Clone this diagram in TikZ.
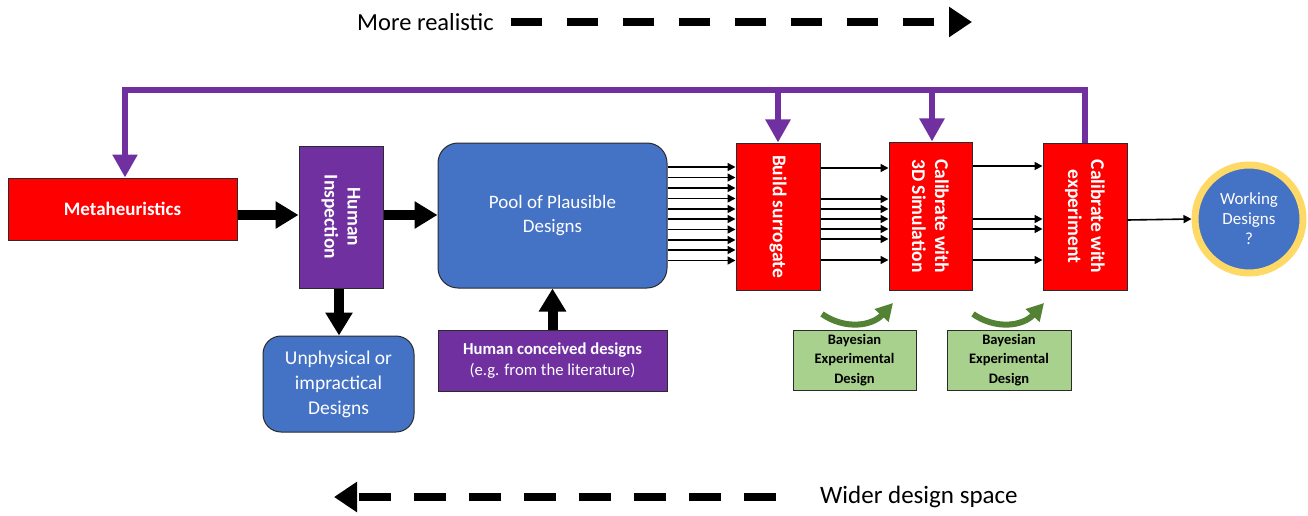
\documentclass[tikz,border=0pt]{standalone}
\usepackage{fontspec}
\setmainfont{Carlito}
\usetikzlibrary{arrows.meta}
\definecolor{myred}{HTML}{FF0000}
\definecolor{mypurple}{HTML}{7030A0}
\definecolor{myblue}{HTML}{4472C4}
\definecolor{mygreen}{HTML}{A9D18E}
\definecolor{mygold}{HTML}{FFD966}
\definecolor{darkgreen}{HTML}{548235}
\definecolor{edgec}{HTML}{2B2B2B}
\begin{document}
\begin{tikzpicture}[x=1pt,y=-1pt,
  basebox/.style={draw=edgec, line width=1pt, inner sep=0pt},
  redbox/.style={basebox, fill=myred},
  purplebox/.style={basebox, fill=mypurple},
  bluebox/.style={basebox, fill=myblue, rounded corners=20pt},
  greenbox/.style={basebox, fill=mygreen},
  wtext/.style={text=white, align=center, inner sep=0pt},
  btext/.style={text=black, align=center, inner sep=0pt},
  rtext/.style={wtext, rotate=-90, font=\fontsize{19.5}{23}\selectfont\bfseries},
  bigarrow/.style={line width=10pt, -{Triangle[length=23pt,width=26pt]}},
  thinarrow/.style={line width=1.6pt, -{Triangle[length=8pt,width=8pt]}},
  fbline/.style={draw=mypurple, line width=5.5pt},
  fbarrow/.style={fbline, -{Triangle[length=23pt,width=24pt]}},
  garrow/.style={draw=darkgreen, line width=6pt, -{Triangle[length=17pt,width=18pt]}},
  dasharrow/.style={line width=8pt, dash pattern=on 31pt off 25pt, -{Triangle[length=23pt,width=29pt]}},
]
\useasboundingbox (0,0) rectangle (1308,516);

% top / bottom legends
\node[anchor=west, inner sep=0pt, font=\fontsize{24.5}{28}\selectfont] (mr) at (357,22) {More realistic};
\coordinate (mra) at (511,22);
\coordinate (mrb) at (972,22);
\draw[dasharrow] (mra) -- (mrb);

\node[anchor=west, inner sep=0pt, font=\fontsize{25}{29}\selectfont] (wd) at (820,497) {Wider design space};
\coordinate (wda) at (776,497);
\coordinate (wdb) at (334,497);
\draw[line width=8pt, dash pattern=on 32pt off 23pt, -{Triangle[length=23pt,width=29pt]}] (wda) -- (wdb);

% boxes
\node[redbox, minimum width=229pt, minimum height=62pt] (meta) at (122.5,209) {};
\node[wtext, font=\fontsize{19}{23}\selectfont\bfseries] (metat) at (meta.center) {Metaheuristics};

\node[purplebox, minimum width=84pt, minimum height=142pt] (hi) at (341,217) {};
\node[rtext] (hit) at (hi.center) {Human\\Inspection};

\node[bluebox, minimum width=229pt, minimum height=145pt] (pool) at (552.5,215.5) {};
\node[wtext, font=\fontsize{19}{24.5}\selectfont] (poolt) at (pool.center) {Pool of Plausible\\Designs};

\node[bluebox, rounded corners=18pt, minimum width=151pt, minimum height=96pt] (unp) at (338.5,384) {};
\node[wtext, font=\fontsize{19.5}{25}\selectfont] (unpt) at (unp.center) {Unphysical or\\impractical\\Designs};

\node[purplebox, minimum width=229pt, minimum height=61pt] (hcd) at (552.5,360.5) {};
\node[wtext, font=\fontsize{16.7}{21}\selectfont] (hcdt) at (hcd.center) {\textbf{Human conceived designs}\\(e.g. from the literature)};

\node[redbox, minimum width=84pt, minimum height=147pt] (bs) at (778,216.5) {};
\node[rtext] (bst) at (bs.center) {Build surrogate};

\node[redbox, minimum width=83pt, minimum height=148pt] (c3d) at (930.5,216) {};
\node[rtext] (c3dt) at (c3d.center) {Calibrate with\\3D Simulation};

\node[redbox, minimum width=84pt, minimum height=147pt] (exp) at (1085,216.5) {};
\node[rtext] (expt) at (exp.center) {Calibrate with\\experiment};

\node[circle, draw=mygold, line width=7pt, fill=myblue, minimum size=108pt, inner sep=0pt] (work) at (1249,219) {};
\node[wtext, font=\fontsize{17}{20}\selectfont] (workt) at (work.center) {Working\\Designs\\?};

\node[greenbox, minimum width=123pt, minimum height=60pt] (bed1) at (854.5,360) {};
\node[btext, font=\fontsize{14.5}{19.5}\selectfont\bfseries] (bed1t) at (bed1.center) {Bayesian\\Experimental\\Design};
\node[greenbox, minimum width=124pt, minimum height=60pt] (bed2) at (1009,360) {};
\node[btext, font=\fontsize{14.5}{19.5}\selectfont\bfseries] (bed2t) at (bed2.center) {Bayesian\\Experimental\\Design};

% thick black arrows
\draw[bigarrow] (meta.east |- 0,215) -- (hi.west |- 0,215);
\draw[bigarrow] (hi.east |- 0,215) -- (pool.west |- 0,215);
\draw[bigarrow] (hi.south -| 339,0) -- (unp.north -| 339,0);
\draw[bigarrow] (hcd.north) -- (pool.south);

% thin arrows
\foreach \y in {167,177.5,188,198.5,209,219,229.5,240,250,260.5}
  \draw[thinarrow] (pool.east |- 0,\y) -- (bs.west |- 0,\y);
\foreach \y in {168,199,209,219,229,239,260}
  \draw[thinarrow] (bs.east |- 0,\y) -- (c3d.west |- 0,\y);
\foreach \y in {166,219,229,260}
  \draw[thinarrow] (c3d.east |- 0,\y) -- (exp.west |- 0,\y);
\draw[thinarrow] (exp.east |- 0,220) -- (work.west);

% purple feedback
\coordinate (fbL) at (125,90);
\coordinate (fb3) at (932,90);
\draw[fbarrow] (exp.north) -- (exp.north |- fbL) -- (fbL) -- (fbL |- meta.north);
\draw[fbarrow] (bs.north |- fbL) -- (bs.north);
\draw[fbarrow] (fb3) -- (fb3 |- c3d.north);

% green curved arrows
\coordinate (g1a) at (822,314);
\coordinate (g1b) at (893,303);
\draw[garrow] (g1a) .. controls (845,330) and (872,326) .. (g1b);
\coordinate (g2a) at (973,314);
\coordinate (g2b) at (1044,303);
\draw[garrow] (g2a) .. controls (996,330) and (1023,326) .. (g2b);
\end{tikzpicture}
\end{document}
